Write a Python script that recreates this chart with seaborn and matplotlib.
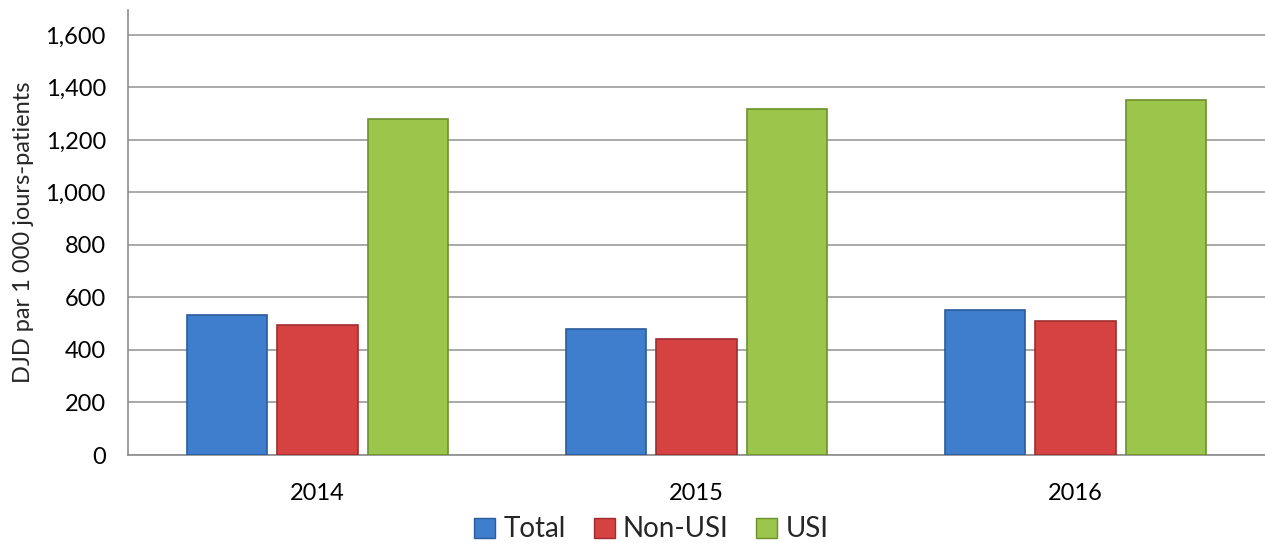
import matplotlib
matplotlib.use("Agg")
import matplotlib.pyplot as plt
import seaborn as sns
import pandas as pd
from matplotlib.patches import Patch

years = ["2014", "2015", "2016"]
series = ["Total", "Non-USI", "USI"]
total = [533, 480, 552]
non_usi = [495, 442, 510]
usi = [1280, 1318, 1352]
yticks = [0, 200, 400, 600, 800, 1000, 1200, 1400, 1600]
ylabel = "DJD par 1 000 jours-patients"

colors = ["#3E7ECC", "#D54241", "#9CC54B"]
edges = ["#2A5C9C", "#9E2D2D", "#6C902E"]

df = pd.DataFrame({
    "year": years * 3,
    "series": [series[0]] * 3 + [series[1]] * 3 + [series[2]] * 3,
    "value": total + non_usi + usi,
})

sns.set_theme(style="white")
plt.rcParams["font.family"] = ["Lato", "DejaVu Sans"]

W, H = 1265, 543
fig = plt.figure(figsize=(W / 100, H / 100), dpi=100)
ax = fig.add_axes([128 / W, (H - 455) / H, (W - 128) / W, (455 - 10) / H])

sns.barplot(data=df, x="year", y="value", hue="series", hue_order=series,
            order=years, palette=colors, saturation=1, width=0.72, gap=0.12,
            legend=False, ax=ax, zorder=3)

for i, cont in enumerate(ax.containers):
    for bar in cont:
        bar.set_edgecolor(edges[i])
        bar.set_linewidth(1.2)

ax.set_ylim(0, 1695)
ax.set_xlim(-0.5, 2.5)
ax.set_yticks(yticks)
ax.set_yticklabels([f"{v:,}" for v in yticks])
ax.yaxis.grid(True, color="#9A9A9A", linewidth=1.2, zorder=0)
ax.set_axisbelow(True)
for s in ["top", "right"]:
    ax.spines[s].set_visible(False)
for s in ["left", "bottom"]:
    ax.spines[s].set_color("#8C8C8C")
    ax.spines[s].set_linewidth(1.2)
ax.tick_params(axis="both", length=0)
ax.tick_params(axis="y", labelsize=17, pad=16, colors="black")
ax.tick_params(axis="x", labelsize=17, pad=20, colors="black")
ax.set_xlabel("")
ax.set_ylabel(ylabel, fontsize=17, labelpad=8)

handles = [Patch(facecolor=colors[i], edgecolor=edges[i], label=series[i]) for i in range(3)]
fig.legend(handles=handles, loc="lower center", bbox_to_anchor=(0.515, -0.045),
           ncol=3, frameon=False, fontsize=20, handlelength=0.75, handleheight=0.75,
           handletextpad=0.3, columnspacing=1.0)

fig.savefig("out.png", dpi=100)
